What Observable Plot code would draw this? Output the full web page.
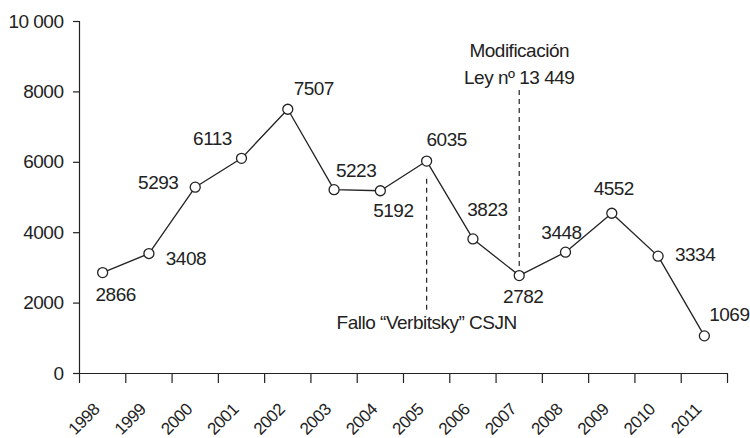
<!DOCTYPE html>
<html><head><meta charset="utf-8">
<script src="https://cdn.jsdelivr.net/npm/d3@7"></script>
<script src="https://cdn.jsdelivr.net/npm/@observablehq/plot@0.6"></script>
<style>body{margin:0;background:#fff} svg{display:block}</style>
</head><body><div id="chart"></div>
<script>
const years = [1998,1999,2000,2001,2002,2003,2004,2005,2006,2007,2008,2009,2010,2011];
const values = [2866,3408,5293,6113,7507,5223,5192,6035,3823,2782,3448,4552,3334,1069];
const yTicks = [0,2000,4000,6000,8000,10000];
const eventYears = [2005, 2007];
const eventFrom = [1800, 2782];
const eventTo = [5570, 8100];
const eventLabels = ["Fallo “Verbitsky” CSJN", "Modificación\nLey nº 13 449"];
const eventLabelAt = [1505, 8855];

// layout: label nudges (px) for each data label
const labelNudge = [[13,22],[37,5],[-37,-4],[-29,-19],[26,-20],[22,-19],[13,20],[20,-21],[14.5,-29],[4,21],[-4,-19],[2,-24],[37,-1.5],[25,-21]];

const data = years.map((y,i)=>({year:y, value:values[i]}));
const events = eventYears.map((y,i)=>({year:y, from:eventFrom[i], to:eventTo[i], label:eventLabels[i], at:eventLabelAt[i]}));
const boundaries = d3.range(years[0]-0.5, years[years.length-1]+1, 1);
const ink = "#222";
const fmt = d => d >= 10000 ? d3.format(",")(d).replace(/,/g," ") : String(d);

const plot = Plot.plot({
  width: 750, height: 438,
  marginLeft: 79, marginRight: 23, marginTop: 21, marginBottom: 65,
  style: {fontFamily: "'Liberation Sans', Arial, sans-serif", fontSize: "19px", color: ink, letterSpacing: "-0.5px", background: "#fff"},
  x: {domain: [years[0]-0.5, years[years.length-1]+0.5]},
  y: {domain: [0, 10000]},
  marks: [
    Plot.axisY({ticks: yTicks, tickSize: 6, tickPadding: 10, tickFormat: fmt, label: null, stroke: ink, strokeWidth: 1.2}),
    Plot.axisX({ticks: boundaries, tickSize: 10, tickFormat: () => "", label: null, stroke: ink, strokeWidth: 1.2}),
    Plot.text(years, {x: d => d, y: 0, text: d => String(d), rotate: -45, fontSize: 17, textAnchor: "end", lineAnchor: "bottom", dx: -2, dy: 37, fill: ink}),
    Plot.ruleY([0], {stroke: ink, strokeWidth: 1.2}),
    Plot.ruleX([years[0]-0.5], {stroke: ink, strokeWidth: 1.2}),
    Plot.ruleX(events, {x: "year", y1: "from", y2: "to", stroke: ink, strokeWidth: 1.2, strokeDasharray: "5,4"}),
    Plot.text(events, {x: "year", y: "at", text: "label", lineHeight: 1.45, lineAnchor: "middle", fill: ink}),
    Plot.line(data, {x: "year", y: "value", stroke: ink, strokeWidth: 1.3}),
    Plot.dot(data, {x: "year", y: "value", r: 5, fill: "white", stroke: ink, strokeWidth: 1.3}),
    ...data.map((d,i) => Plot.text([d], {x: "year", y: "value", text: d => String(d.value), dx: labelNudge[i][0], dy: labelNudge[i][1], lineAnchor: "middle", fill: ink}))
  ]
});
document.getElementById("chart").appendChild(plot);
</script>
</body></html>
